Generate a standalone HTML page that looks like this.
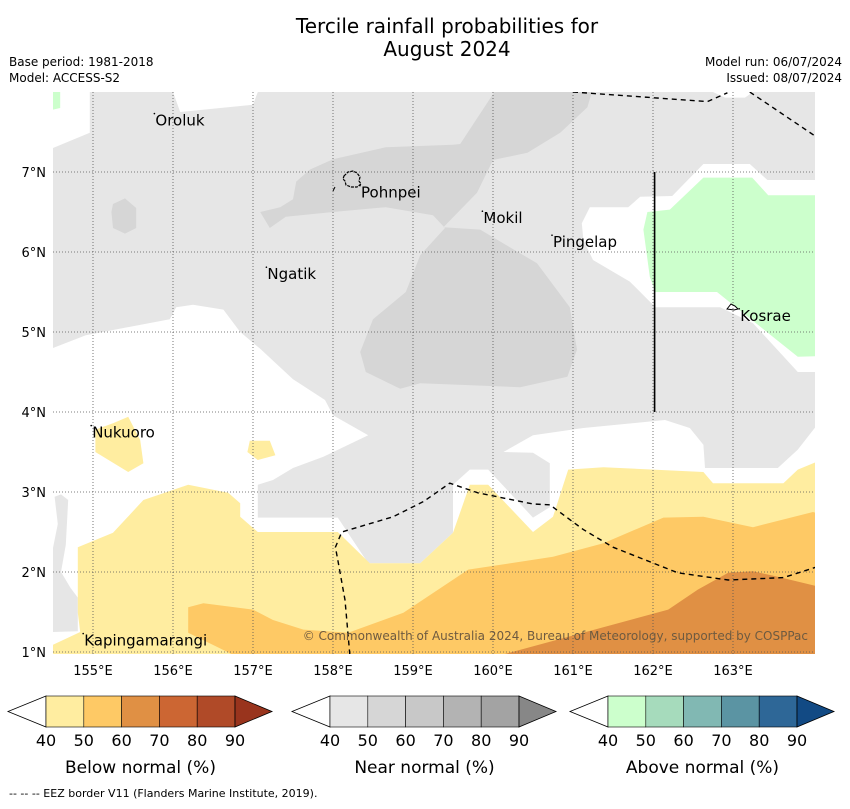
<!DOCTYPE html>
<html><head><meta charset="utf-8">
<style>
html,body{margin:0;padding:0;background:#fff;}
body{width:850px;height:804px;overflow:hidden;font-family:"Liberation Sans","DejaVu Sans",sans-serif;}
svg text{font-family:"DejaVu Sans","Liberation Sans",sans-serif;}
</style></head>
<body>
<svg id="chart" width="850" height="804" viewBox="0 0 850 804" xmlns="http://www.w3.org/2000/svg">
<text x="447" y="33" font-size="20" text-anchor="middle">Tercile rainfall probabilities for</text>
<text x="447" y="56" font-size="20" text-anchor="middle">August 2024</text>
<text x="9" y="66" font-size="12">Base period: 1981-2018</text>
<text x="9" y="82" font-size="12">Model: ACCESS-S2</text>
<text x="842" y="66" font-size="12" text-anchor="end">Model run: 06/07/2024</text>
<text x="842" y="82" font-size="12" text-anchor="end">Issued: 08/07/2024</text>
<defs><clipPath id="mapclip"><rect x="53" y="92" width="762" height="562"/></clipPath></defs>
<g id="map" clip-path="url(#mapclip)"></g>
<g id="axes"></g>
<g id="bars"></g>
<text x="9" y="797" font-size="11">--  --  -- EEZ border V11 (Flanders Marine Institute, 2019).</text>
</svg>
<script>
const lonTicks=[155,156,157,158,159,160,161,162,163];
const latTicks=[7,6,5,4,3,2,1];
const cbTicks=[40,50,60,70,80,90];
const belowColors=["#ffeda0","#fec965","#e09044","#cc6633","#b04a28","#99341d"];
const nearColors=["#e6e6e6","#d6d6d6","#c8c8c8","#b3b3b3","#a3a3a3","#878787"];
const aboveColors=["#ccffcc","#a6dbbc","#81b8b3","#5b94a3","#2e6797","#124a84"];
const cbTitles=["Below normal (%)","Near normal (%)","Above normal (%)"];
const places=["Oroluk","Pohnpei","Mokil","Pingelap","Ngatik","Kosrae","Nukuoro","Kapingamarangi"];
const placeLon=[155.78,158.35,159.88,160.75,157.18,163.09,154.99,154.89];
const placeLat=[7.58,6.68,6.36,6.06,5.66,5.14,3.68,1.08];

const whiteTopLeft=[[154.5,8],[154.96,8],[154.96,7.49],[154.5,7.3]];
const greenPatch=[[154.5,8],[154.59,8],[154.59,7.8],[154.5,7.78]];
const whiteTopNotch=[[156,8],[156.09,7.75],[157,7.84],[157.06,8]];
const whiteTopRight=[[162.75,8],[162.9,7.93],[163.15,7.93],[163.25,8]];
const whiteBottom=[[154.5,4.8],[154.91,4.96],[155.96,5.16],[156.04,5.31],[156.25,5.34],[156.63,5.28],[156.84,5.0],[157.09,4.79],[157.5,4.41],[157.9,4.15],[158.0,3.96],[158.44,3.71],[157.88,3.44],[157.5,3.3],[157.25,3.15],[157.06,3.09],[157.06,2.68],[158.06,2.68],[158.44,2.11],[159.09,2.11],[159.5,2.49],[159.5,3.09],[159.71,3.28],[159.94,3.28],[160.5,2.68],[160.71,2.81],[160.71,3.36],[160.5,3.49],[160.13,3.5],[160.5,3.71],[161.13,3.8],[162.15,3.9],[162.46,3.8],[162.63,3.59],[162.65,3.3],[163.56,3.3],[163.81,3.53],[164.1,3.9],[164.1,0.9],[154.5,0.9]];
const grayLeftSliver=[[154.52,2.94],[154.6,2.97],[154.69,2.9],[154.66,2.34],[154.6,2.0],[154.72,1.8],[154.81,1.68],[154.81,1.26],[154.5,1.25],[154.5,2.3],[154.56,2.6]];
const below40Main=[[154.81,2.31],[155.25,2.49],[155.63,2.9],[156.19,3.09],[156.69,2.99],[156.84,2.86],[156.84,2.69],[157.06,2.5],[158.06,2.5],[158.46,2.11],[159.09,2.11],[159.5,2.49],[159.71,3.09],[159.94,3.09],[160.5,2.5],[160.75,2.69],[160.94,3.28],[161.38,3.31],[162.63,3.25],[162.75,3.11],[163.63,3.11],[163.81,3.28],[164.1,3.4],[164.1,0.9],[154.5,0.9],[154.5,1.09],[154.84,1.25],[154.81,1.49]];
const below40Nukuoro=[[155.44,3.94],[155.59,3.65],[155.63,3.36],[155.44,3.25],[155.03,3.5],[155.03,3.78],[155.25,3.86]];
const below40Small=[[156.96,3.64],[157.21,3.64],[157.28,3.46],[157.06,3.4],[156.93,3.5]];
const below50=[[156.19,1.56],[156.38,1.61],[157.0,1.53],[157.25,1.4],[157.63,1.28],[158.19,1.24],[158.88,1.49],[159.69,2.03],[160.75,2.19],[161.38,2.36],[162.13,2.68],[162.63,2.69],[163.25,2.56],[164.0,2.75],[164.1,2.72],[164.1,0.9],[156.88,0.9],[156.56,1.06],[156.19,1.24]];
const below60=[[160.13,0.97],[162.19,1.53],[162.56,1.78],[162.94,1.99],[163.25,2.01],[163.56,1.94],[164.1,1.81],[164.1,0.9],[160.0,0.9]];
const near50Main=[[160.05,8.05],[159.59,7.35],[159.5,7.34],[158.66,7.31],[158.0,7.16],[157.71,7.03],[157.54,6.88],[157.5,6.66],[157.34,6.56],[157.09,6.5],[157.21,6.3],[157.41,6.44],[158.0,6.5],[158.66,6.56],[159.25,6.46],[159.4,6.3],[159.09,5.96],[158.91,5.5],[158.5,5.16],[158.34,4.75],[158.41,4.5],[158.84,4.29],[159.09,4.36],[160.34,4.31],[160.93,4.44],[161.05,4.78],[160.96,5.31],[160.55,5.86],[160.21,6.06],[159.84,6.28],[159.38,6.31],[159.8,6.74],[160.0,7.15],[160.43,7.24],[160.84,7.49],[161.18,7.81],[161.25,8.05]];
const near50Blob=[[155.25,6.6],[155.4,6.67],[155.54,6.55],[155.54,6.3],[155.4,6.23],[155.25,6.3],[155.23,6.5]];
const whiteBuffer=[[161.11,6.36],[161.21,6.56],[161.69,6.56],[161.84,6.69],[162.24,6.7],[162.63,7.1],[163.21,7.1],[163.43,6.9],[164.1,6.9],[164.1,4.5],[163.81,4.5],[163.25,5.11],[162.84,5.31],[162.03,5.31],[161.71,5.63],[161.25,5.9],[161.13,6.15]];
const above40=[[161.93,6.5],[162.21,6.53],[162.63,6.93],[163.24,6.93],[163.44,6.71],[164.1,6.71],[164.1,4.7],[163.81,4.69],[162.8,5.5],[162.03,5.5],[161.96,5.69],[161.88,6.28]];
const eezSouth=[[158.21,0.97],[158.15,1.65],[158.06,2.15],[158.03,2.31],[158.11,2.5],[158.75,2.69],[159.13,2.88],[159.46,3.11],[159.81,2.99],[160.5,2.85],[160.71,2.84],[161.13,2.53],[161.5,2.31],[162.31,1.99],[162.94,1.9],[163.63,1.93],[164.1,2.08]];
const eezNorth1=[[161.0,8],[162.68,7.88],[162.93,7.99]];
const eezNorth2=[[163.21,8],[164.1,7.4]];
const boundaryLine=[[162.02,7.0],[162.02,4.0]];

const NS="http://www.w3.org/2000/svg";
const X=lon=>53+(lon-154.5)*80;
const Y=lat=>92+(8-lat)*80;
const map=document.getElementById('map');
const axes=document.getElementById('axes');
const bars=document.getElementById('bars');
function mk(tag,attrs,parent){const e=document.createElementNS(NS,tag);for(const k in attrs)e.setAttribute(k,attrs[k]);parent.appendChild(e);return e;}
function pts(a){return a.map(p=>X(p[0]).toFixed(1)+','+Y(p[1]).toFixed(1)).join(' ');}
function poly(arr,fill,name){const e=mk('polygon',{points:pts(arr),fill:fill},map);

return e;}
function line(arr,name,dash,w){const e=mk('polyline',{points:pts(arr),fill:'none',stroke:'#000','stroke-width':w||1.5},map);if(dash)e.setAttribute('stroke-dasharray',dash);

return e;}

const bg=mk('rect',{x:53,y:92,width:762,height:562,fill:nearColors[0]},map);


poly(whiteTopLeft,'#fff','white-no-signal-top-left');
poly(greenPatch,aboveColors[0],'above-normal-patch-corner');
poly(whiteTopNotch,'#fff','white-no-signal-top');
poly(whiteTopRight,'#fff','white-no-signal-top-right');
poly(whiteBottom,'#fff','white-no-signal-south');
poly(grayLeftSliver,nearColors[0],'near-normal-left-sliver');
poly(below40Main,belowColors[0],'below-normal-40-region');
poly(below40Nukuoro,belowColors[0],'below-normal-40-nukuoro');
poly(below40Small,belowColors[0],'below-normal-40-small');
poly(below50,belowColors[1],'below-normal-50-region');
poly(below60,belowColors[2],'below-normal-60-region');
poly(near50Main,nearColors[1],'near-normal-50-region');
poly(near50Blob,nearColors[1],'near-normal-50-blob');
poly(whiteBuffer,'#fff','white-buffer-east');
poly(above40,aboveColors[0],'above-normal-40-region');

lonTicks.forEach(v=>{const l=mk('line',{x1:X(v),x2:X(v),y1:92,y2:654,stroke:'#555','stroke-width':0.8,'stroke-dasharray':'1,2'},map);

});
latTicks.forEach(v=>{const l=mk('line',{x1:53,x2:815,y1:Y(v),y2:Y(v),stroke:'#555','stroke-width':0.8,'stroke-dasharray':'1,2'},map);

});

line(eezSouth,'eez-border-south','5,4',1.4);
line(eezNorth1,'eez-border-north','5,4',1.4);
line(eezNorth2,'eez-border-northeast','5,4',1.4);
line(boundaryLine,'state-boundary-line',null,1.6);

const pohn=mk('path',{d:'M344,176 l4,-4 l5,-1 l4,2 l3,4 l-1,4 l2,3 l-4,3 l-6,0 l-5,-2 l-1,-4 l-2,-2 z',fill:'none',stroke:'#000','stroke-width':1.2,'stroke-dasharray':'3,1'},map);


const pd=mk('line',{x1:333,y1:191,x2:335,y2:187,stroke:'#000','stroke-width':1},map);


const kos=mk('path',{d:'M727,309 l4,-5 l4,2 l3,3 l-4,1 z',fill:'none',stroke:'#000','stroke-width':1},map);



places.forEach((p,i)=>{const x=X(placeLon[i]),y=Y(placeLat[i]);
const d=mk('circle',{cx:x-1,cy:y-12,r:0.8,fill:'#000'},map);


const t=mk('text',{x:x,y:y,'font-size':15,fill:'#000'},map);t.textContent=p;

});

const cp=mk('text',{x:808,y:640,'font-size':12,fill:'#6e5a40','text-anchor':'end','font-family':'"Liberation Sans Narrow","Liberation Sans",sans-serif'},map);
cp.textContent='© Commonwealth of Australia 2024, Bureau of Meteorology, supported by COSPPac';



lonTicks.forEach(v=>{const t=mk('text',{x:X(v),y:675,'font-size':13,'text-anchor':'middle'},axes);t.textContent=v+'°E';

});
latTicks.forEach(v=>{const t=mk('text',{x:46,y:Y(v)+5,'font-size':13,'text-anchor':'end'},axes);t.textContent=v+'°N';

});

const cbLeft=[46,330,608];
const palettes=[belowColors,nearColors,aboveColors];
const cbNames=['below','near','above'];
const segW=37.8;
palettes.forEach((pal,b)=>{const L=cbLeft[b],R=L+segW*5,T=696,B=727,M=711.5;
const g=mk('g',{},bars);


mk('polygon',{points:`${L},${T} ${L-38},${M} ${L},${B}`,fill:'#fff',stroke:'#000','stroke-width':0.8},g);
for(let i=0;i<5;i++){mk('rect',{x:L+segW*i,y:T,width:segW,height:B-T,fill:pal[i],stroke:'#000','stroke-width':0.6},g);}
mk('polygon',{points:`${R},${T} ${R+37},${M} ${R},${B}`,fill:pal[5],stroke:'#000','stroke-width':0.8},g);
cbTicks.forEach((v,i)=>{const t=mk('text',{x:L+segW*i,y:746,'font-size':16,'text-anchor':'middle'},g);t.textContent=v;

});
const tt=mk('text',{x:L+segW*2.5,y:773,'font-size':17,'text-anchor':'middle'},g);tt.textContent=cbTitles[b];


});
</script>
</body></html>
